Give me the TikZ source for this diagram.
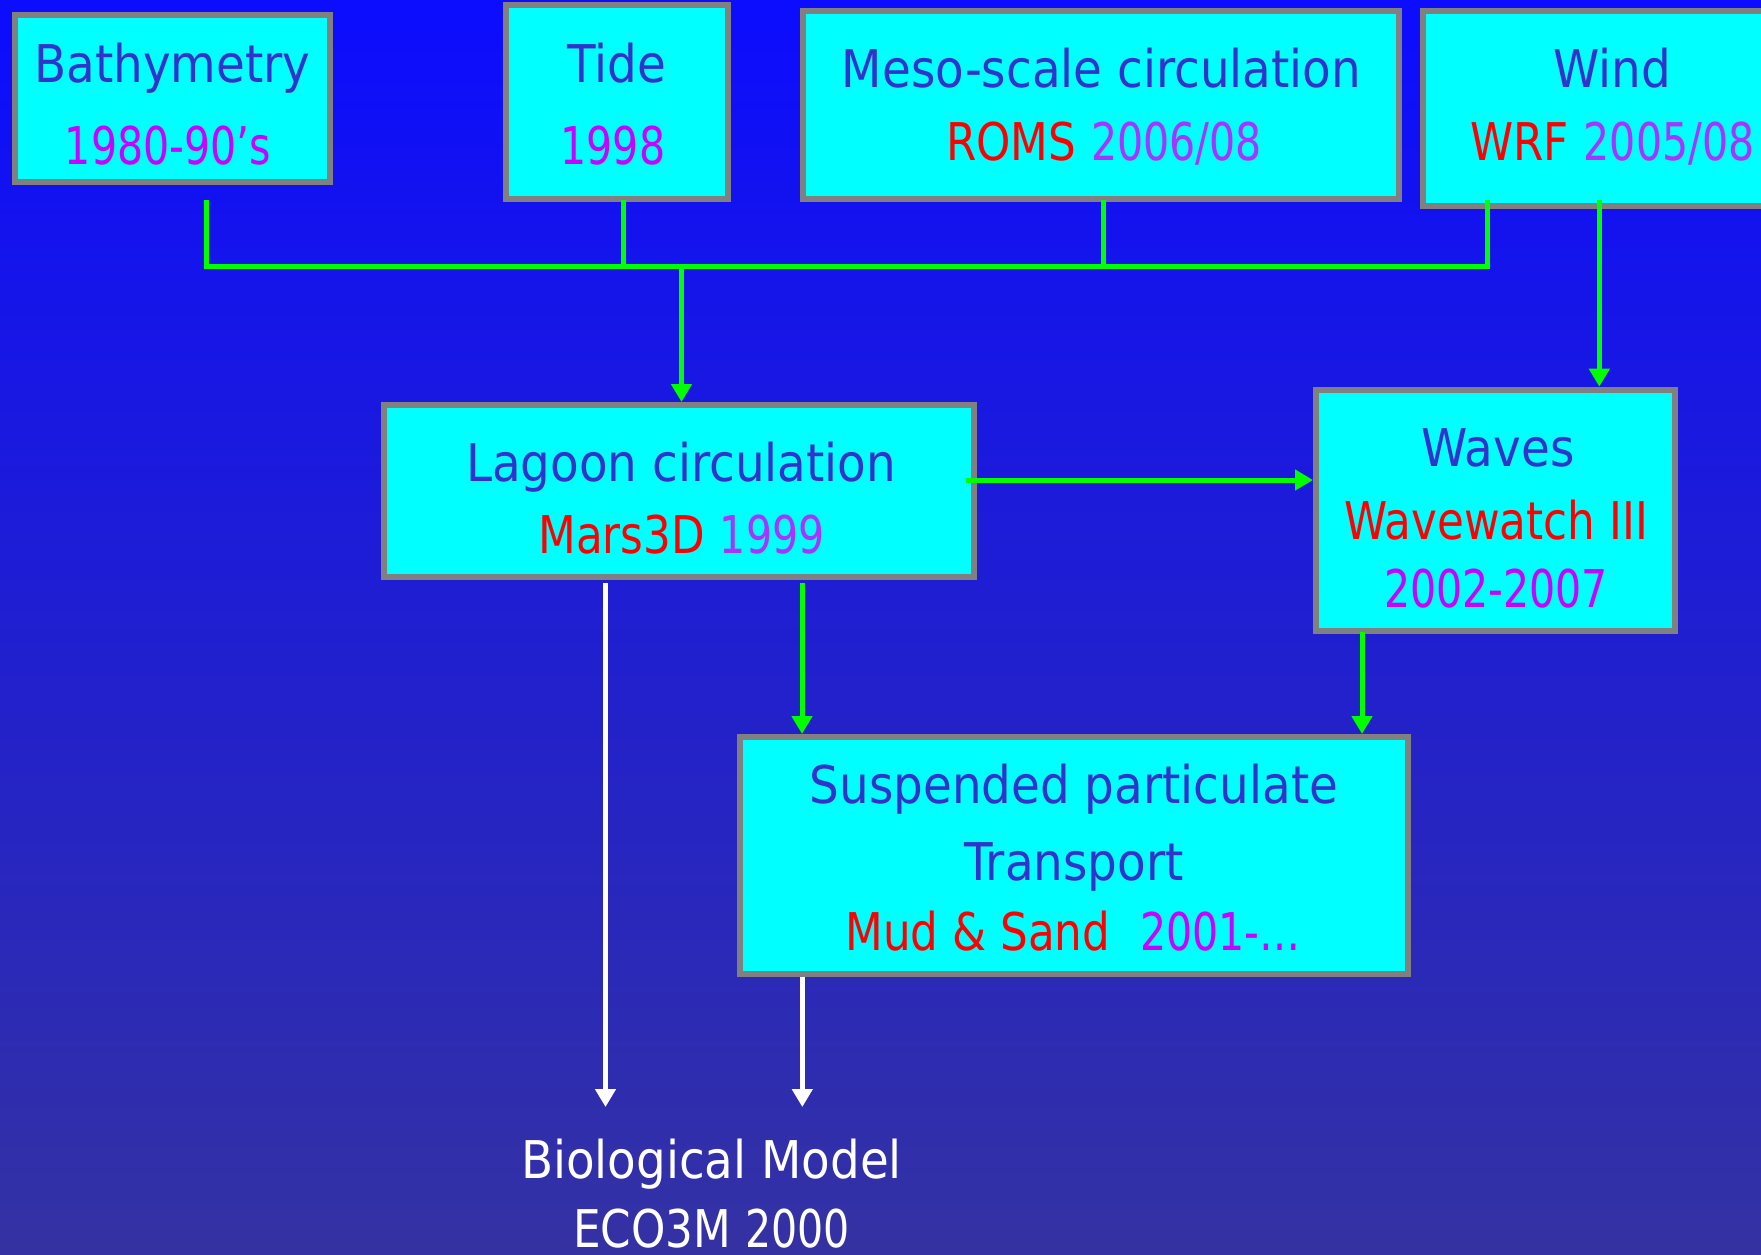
\documentclass[tikz,border=0pt]{standalone}
\usepackage{fontspec}
\setmainfont{DejaVu Sans}[FakeStretch=0.9]
\newfontfamily\datefont{DejaVu Sans}[FakeStretch=0.79]
\newfontfamily\modelfont{DejaVu Sans}[FakeStretch=0.84]
\usetikzlibrary{arrows.meta}
\definecolor{bgtop}{RGB}{12,12,255}
\definecolor{bgbot}{RGB}{52,50,162}
\definecolor{boxfill}{RGB}{0,255,255}
\definecolor{boxline}{RGB}{128,128,128}
\definecolor{titleblue}{RGB}{51,51,204}
\definecolor{modelred}{RGB}{255,0,0}
\definecolor{datemag}{RGB}{204,0,255}
\definecolor{datepur}{RGB}{170,51,255}
\definecolor{linkgreen}{RGB}{0,255,0}
\newcommand{\mdl}[1]{\textcolor{modelred}{\modelfont #1}}
\newcommand{\dtm}[1]{\textcolor{datemag}{\datefont #1}}
\newcommand{\dtp}[1]{\textcolor{datepur}{\datefont #1}}
\tikzset{
  box/.style={draw=boxline, fill=boxfill, line width=6pt, inner sep=0pt, outer sep=3pt},
  txt/.style={anchor=base, inner sep=0pt, font=\fontsize{52}{62}\selectfont},
  link/.style={draw=linkgreen, line width=5pt},
  linkarrow/.style={link, -{Triangle[width=20pt,length=18pt]}},
  bioarrow/.style={draw=white, line width=5pt, -{Triangle[width=20pt,length=18pt]}}
}
\begin{document}
\begin{tikzpicture}[x=1pt,y=-1pt]
\useasboundingbox (0,0) rectangle (1761,1255);
\clip (0,0) rectangle (1761,1255);
\shade[top color=bgtop, bottom color=bgbot] (0,0) rectangle (1761,1255);

% boxes
\node[box, minimum width=315.4pt, minimum height=166.7pt] (bath) at (172.3,98.65) {};
\node[box, minimum width=222pt, minimum height=193.7pt] (tide) at (617,102.15) {};
\node[box, minimum width=596.2pt, minimum height=187.7pt] (meso) at (1100.7,104.85) {};
\node[box, minimum width=379.4pt, minimum height=194.7pt] (wind) at (1612.3,108.65) {};
\node[box, minimum width=590pt, minimum height=172pt] (lag) at (679,491) {};
\node[box, minimum width=359pt, minimum height=241.3pt] (wav) at (1495.5,510.35) {};
\node[box, minimum width=668pt, minimum height=236.7pt] (sus) at (1074,855.35) {};

% texts
\node[txt, text=titleblue] (bathT) at (172.3,82.5) {Bathymetry};
\node[txt] (bathD) at (168,164) {\dtm{1980-90’s}};
\node[txt, text=titleblue] (tideT) at (617,82.5) {Tide};
\node[txt] (tideD) at (613,164) {\dtm{1998}};
\node[txt, text=titleblue] (mesoT) at (1101.5,88) {Meso-scale circulation};
\node[txt] (mesoD) at (1104,160) {\mdl{ROMS} \dtp{2006/08}};
\node[txt, text=titleblue] (windT) at (1612.3,88) {Wind};
\node[txt] (windD) at (1612.3,160) {\mdl{WRF} \dtp{2005/08}};
\node[txt, text=titleblue] (lagT) at (681,481.7) {Lagoon circulation};
\node[txt] (lagD) at (681.5,553) {\mdl{Mars3D} \dtp{1999}};
\node[txt, text=titleblue] (wavT) at (1498,466) {Waves};
\node[txt] (wavM) at (1496,539.3) {\mdl{Wavewatch III}};
\node[txt] (wavD) at (1496,607.3) {\dtm{2002-2007}};
\node[txt, text=titleblue] (susT1) at (1074,803.3) {Suspended particulate};
\node[txt, text=titleblue] (susT2) at (1074,880) {Transport};
\node[txt] (susD) at (1073,950) {\mdl{Mud \& Sand}\ \ \dtm{2001-…}};
\node[txt, text=white] (bioT) at (711.5,1178.3) {Biological Model};
\node[txt, text=white] (bioD) at (711.5,1247.3) {\modelfont ECO3M \datefont 2000};

% connector points
\coordinate (b1) at (206.5,200);
\coordinate (b2) at (623,200);
\coordinate (b3) at (1103.5,200);
\coordinate (b4) at (1487.3,200);
\coordinate (b5) at (1599.3,200);
\coordinate (j1) at (206.5,266);
\coordinate (j4) at (1487.3,266);
\coordinate (ja) at (681.5,266);
\coordinate (lagR) at (966,480);
\coordinate (lagG) at (802,583);
\coordinate (lagW) at (605.5,583);
\coordinate (wavG) at (1362,632);
\coordinate (susW) at (802.3,977);
\coordinate (bioIn) at (711.5,1107);

% green links
\draw[link, line join=miter] (b1) -- (j1) -- (j4) -- (b4);
\draw[link] (b2) -- (b2 |- j1);
\draw[link] (b3) -- (b3 |- j1);
\draw[linkarrow] (ja) -- (ja |- lag.north);
\draw[linkarrow] (b5) -- (b5 |- wav.north);
\draw[linkarrow] (lagR) -- (wav.west |- lagR);
\draw[linkarrow] (lagG) -- (lagG |- sus.north);
\draw[linkarrow] (wavG) -- (wavG |- sus.north);

% white links
\draw[bioarrow] (lagW) -- (lagW |- bioIn);
\draw[bioarrow] (susW) -- (susW |- bioIn);
\end{tikzpicture}
\end{document}
